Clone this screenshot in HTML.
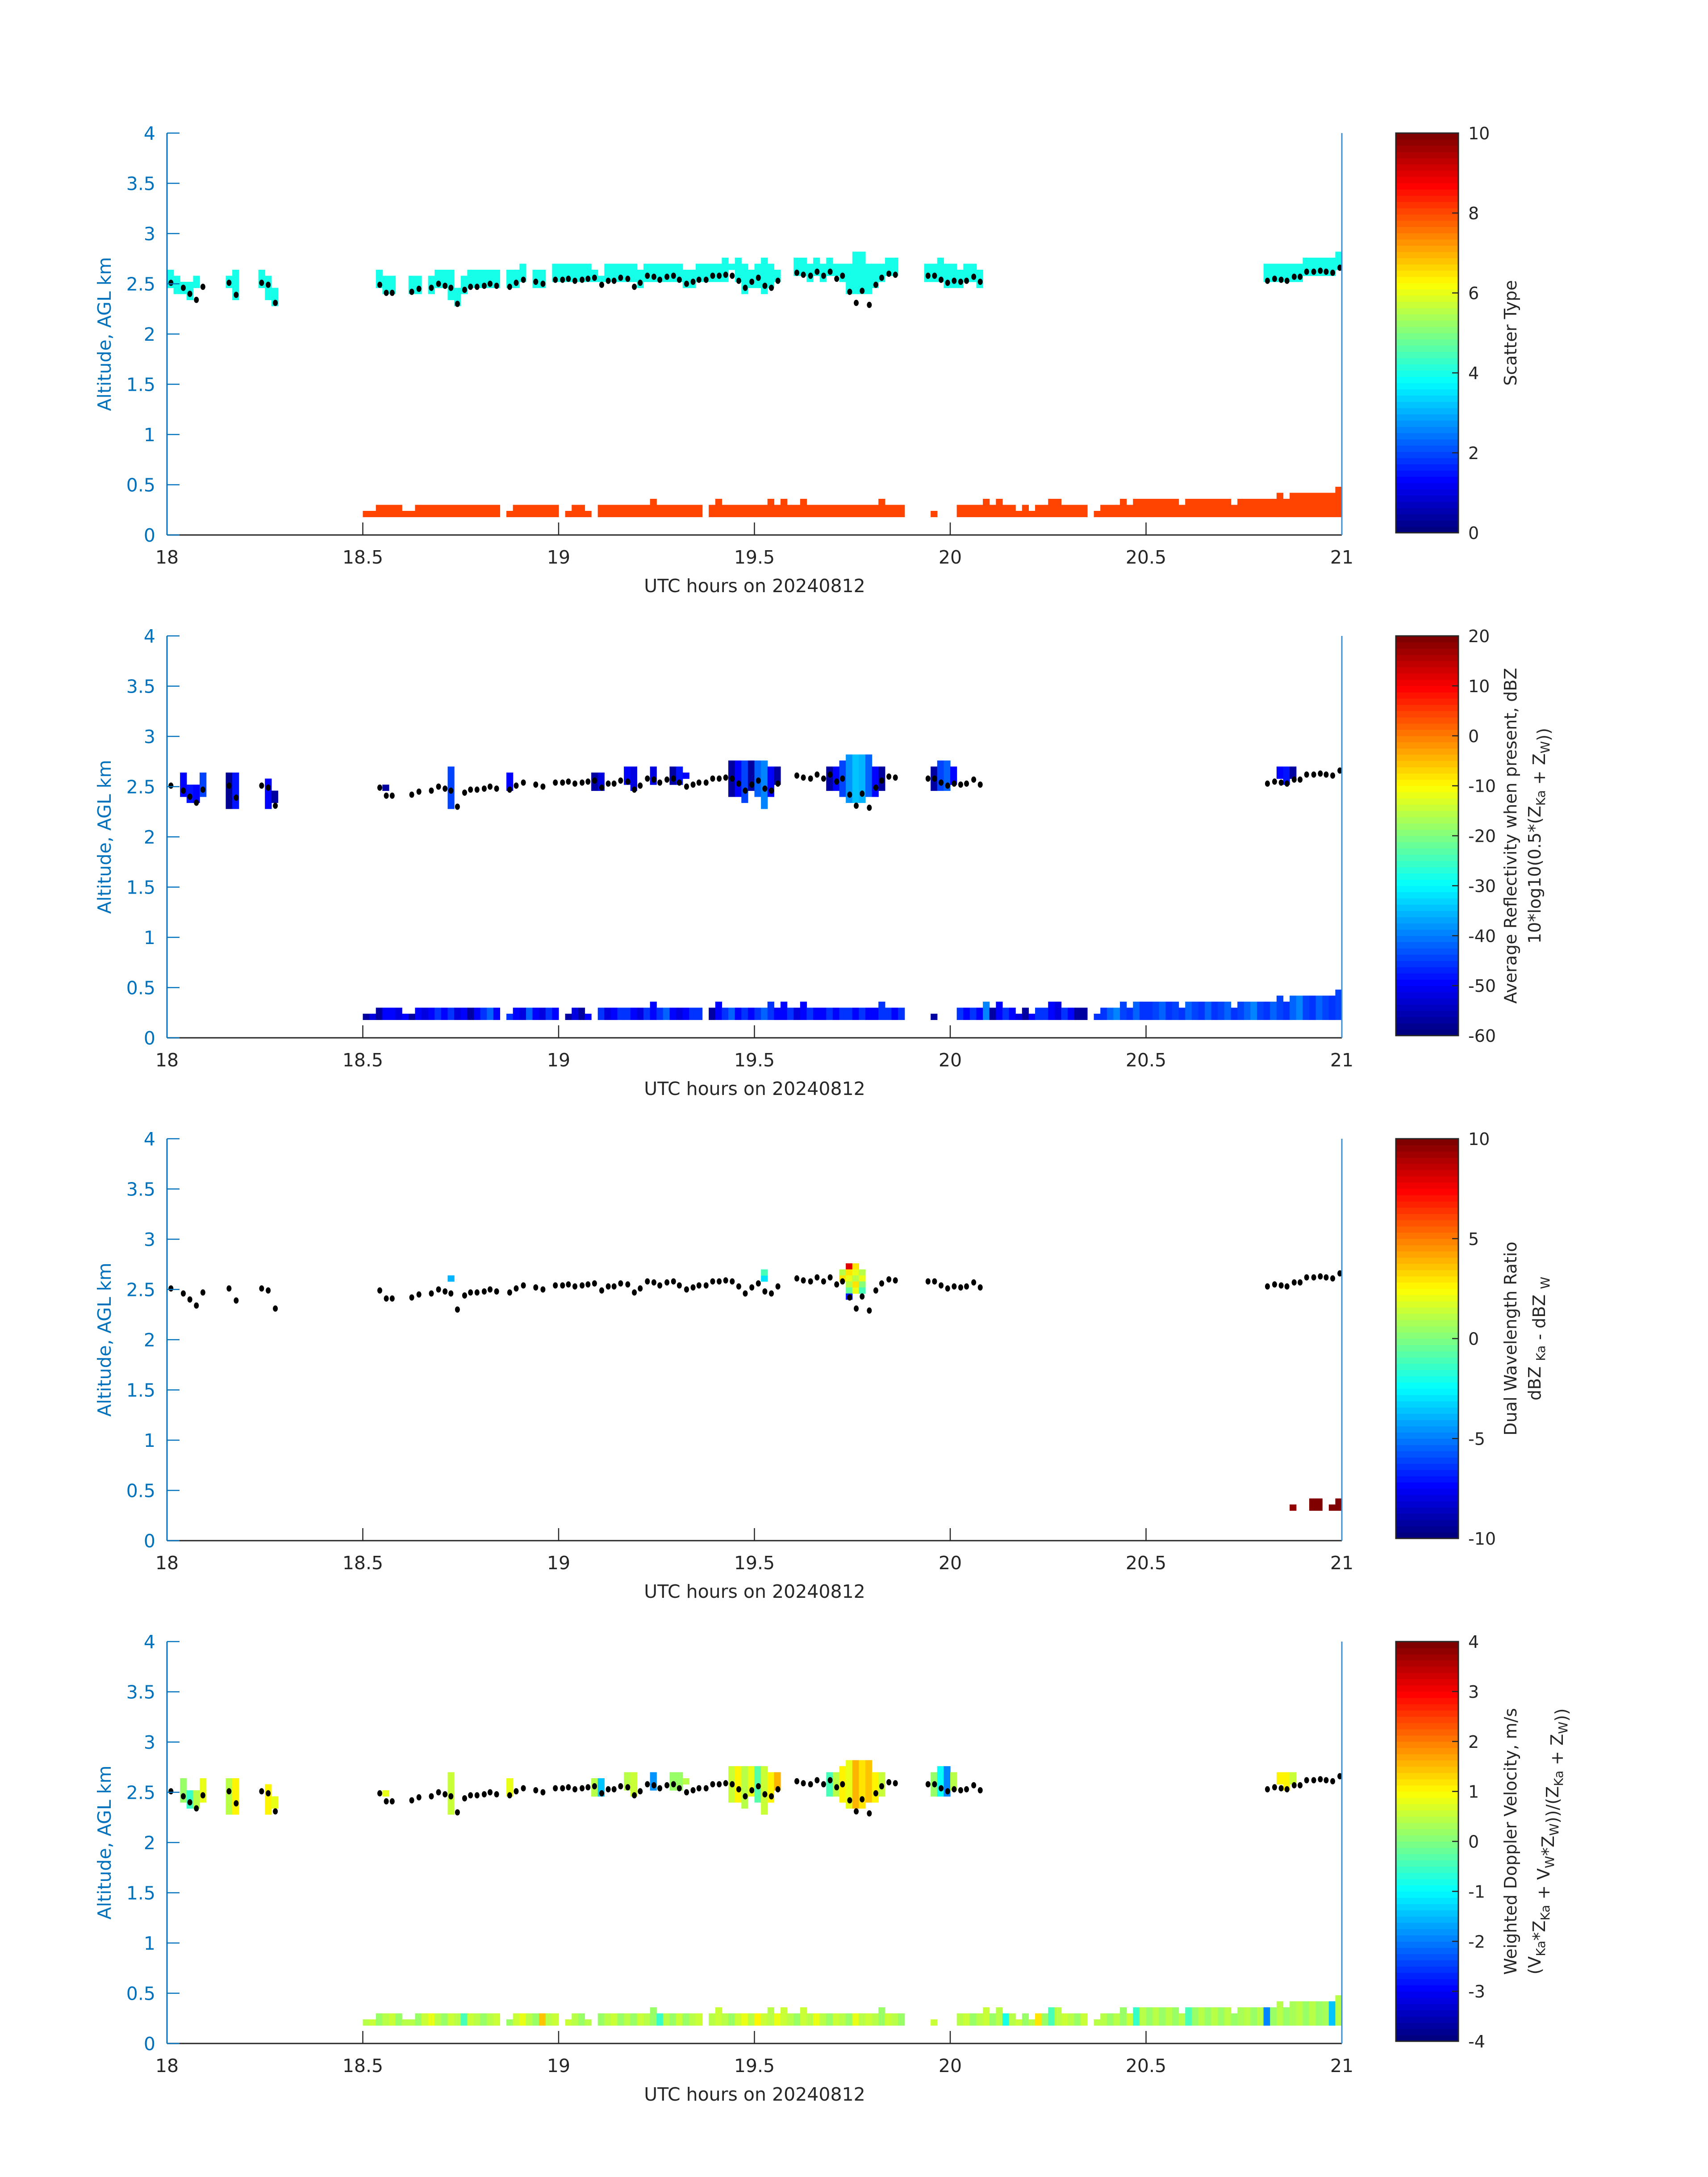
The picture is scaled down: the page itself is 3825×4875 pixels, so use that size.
<!DOCTYPE html>
<html><head><meta charset="utf-8"><style>
body{margin:0;background:#fff}
svg{display:block;font-family:"DejaVu Sans","Liberation Sans",sans-serif}
</style></head><body>
<svg id="fig" width="3825" height="4875" viewBox="0 0 3825 4875" xmlns="http://www.w3.org/2000/svg"></svg>
<script>
// ---------- shared data ----------
const xTicks = [18, 18.5, 19, 19.5, 20, 20.5, 21];
const xTickLabels = ["18", "18.5", "19", "19.5", "20", "20.5", "21"];
const yTicks = [0, 0.5, 1, 1.5, 2, 2.5, 3, 3.5, 4];
const yTickLabels = ["0", "0.5", "1", "1.5", "2", "2.5", "3", "3.5", "4"];
// lower-layer bin count per minute (m0..m179), bins start at 0.18 km, 0.06 km each
const lowerBins = [0,0,0,0,0,0,0,0,0,0,0,0,0,0,0,0,0,0,0,0,0,0,0,0,0,0,0,0,0,0,
1,1,2,2,2,2,1,1,2,2,2,2,2,2,2,2,2,2,2,2,2,0,1,2,2,2,2,2,2,2,
0,1,2,2,1,0,2,2,2,2,2,2,2,2,3,2,2,2,2,2,2,2,0,2,3,2,2,2,2,2,
2,2,3,2,3,2,2,3,2,2,2,2,2,2,2,2,2,2,2,3,2,2,2,0,0,0,0,1,0,0,
0,2,2,2,2,3,2,3,2,2,1,2,1,2,2,3,3,2,2,2,2,0,1,2,2,2,3,2,3,3,
3,3,3,3,3,2,3,3,3,3,3,3,3,2,3,3,3,3,3,3,4,3,4,4,4,4,4,4,4,5];
// cloud-base dots (minute, altitude km)
const dotMin = [0.6,2.5,3.5,4.5,5.5,9.5,10.6,14.5,15.5,16.6,32.6,33.6,34.5,37.5,38.6,40.5,41.6,42.6,43.5,44.5,45.6,46.5,47.5,48.6,49.5,50.5,52.5,53.5,54.6,56.5,57.6,59.5,60.6,61.5,62.5,63.6,64.5,65.5,66.6,67.6,68.5,69.5,70.6,71.6,72.5,73.6,74.6,75.5,76.6,77.6,78.5,79.6,80.6,81.5,82.6,83.6,84.6,85.6,86.6,87.6,88.6,89.6,90.6,91.6,92.6,93.6,96.5,97.5,98.6,99.6,100.6,101.6,102.6,103.5,104.6,105.6,106.5,107.6,108.6,109.5,110.6,111.6,116.6,117.6,118.6,119.6,120.6,121.6,122.5,123.6,124.6,168.6,169.7,170.7,171.6,172.7,173.6,174.6,175.7,176.7,177.6,178.6,179.7];
const dotAlt = [2.51,2.46,2.40,2.34,2.47,2.51,2.39,2.51,2.49,2.31,2.49,2.41,2.41,2.42,2.45,2.46,2.50,2.48,2.46,2.30,2.44,2.47,2.47,2.48,2.50,2.48,2.47,2.51,2.54,2.52,2.50,2.54,2.54,2.55,2.53,2.54,2.55,2.56,2.49,2.53,2.53,2.56,2.55,2.47,2.51,2.58,2.57,2.54,2.57,2.58,2.54,2.50,2.52,2.54,2.54,2.58,2.58,2.59,2.58,2.53,2.46,2.52,2.56,2.48,2.46,2.53,2.61,2.59,2.58,2.62,2.58,2.62,2.55,2.58,2.42,2.31,2.43,2.29,2.49,2.56,2.60,2.59,2.58,2.58,2.54,2.51,2.53,2.52,2.53,2.57,2.52,2.53,2.55,2.54,2.53,2.57,2.57,2.62,2.62,2.63,2.62,2.61,2.66];

// ---------- panel 1: scatter type ----------
const p1UpMin = [0,1,2,3,4,9,10,14,15,16,32,33,34,37,38,40,41,42,43,44,45,46,47,48,49,50,52,53,54,56,57,59,60,61,62,63,64,65,66,67,68,69,70,71,72,73,74,75,76,77,78,79,80,81,82,83,84,85,86,87,88,89,90,91,92,93,96,97,98,99,100,101,102,103,104,105,106,107,108,109,110,111,116,117,118,119,120,121,122,123,124,168,169,170,171,172,173,174,175,176,177,178,179];
const p1UpLo  = [38,37,37,36,38,38,36,38,36,35,38,37,37,37,37,37,38,38,36,35,37,38,38,38,38,38,38,38,39,38,38,39,39,39,39,39,39,39,39,39,39,39,39,39,38,39,39,39,39,39,39,38,38,39,39,39,39,39,41,39,37,38,38,37,38,39,40,40,39,40,39,40,40,39,37,37,37,37,38,39,40,40,39,39,39,38,38,38,39,39,38,39,39,39,39,39,39,40,40,40,40,40,41];
const p1UpHi  = [41,40,39,39,40,40,41,41,40,38,41,40,40,40,40,40,41,41,41,38,40,41,41,41,41,41,41,41,42,41,41,42,42,42,42,42,42,41,40,42,42,42,42,42,41,42,42,42,42,42,42,41,41,42,42,42,42,43,42,43,42,41,42,43,42,41,43,43,42,43,42,43,42,42,42,44,44,42,42,42,43,43,42,42,43,42,42,41,42,42,41,42,42,42,42,42,42,43,43,43,43,43,44];
const p1UpVal = 4;
const p1LowVal = 8;

// ---------- panels 2 & 4 shared upper geometry ----------
const p24UpMin = [2,3,4,5,9,10,15,16,33,43,52,65,66,70,71,74,77,78,79,86,87,88,89,90,91,92,93,101,102,103,104,105,106,107,108,109,117,118,119,120,170,171,172];
const p24UpLo  = [37,36,36,37,35,35,35,36,38,35,38,38,38,39,38,39,39,39,40,37,37,36,38,37,35,37,39,38,38,37,36,36,36,37,37,38,38,38,38,39,40,39,40];
const p24UpHi  = [41,39,39,41,41,41,40,38,39,42,41,41,41,42,42,42,42,42,41,43,43,43,43,43,43,42,42,42,42,43,44,44,44,44,42,42,42,43,43,42,42,42,42];
const p2UpVal  = [-50,-48,-50,-45,-58,-48,-50,-57,-57,-45,-50,-57,-52,-50,-52,-52,-57,-48,-50,-57,-50,-45,-57,-42,-40,-50,-57,-57,-50,-44,-38,-34,-36,-42,-50,-57,-57,-45,-42,-50,-50,-48,-57];
const p4UpVal  = [0.2,-0.6,0.4,0.8,0.4,1.0,1.0,0.8,0.8,0.6,0.8,0.4,-1.5,0.4,0.6,-1.8,0.2,0.2,0.4,0.6,1.0,0.4,0.8,-0.3,0.6,1.0,1.6,-0.4,0.4,1.0,0.8,1.6,1.2,1.4,1.0,0.6,0.2,-1.0,-2.0,0.4,1.0,1.0,0.6];
const p2LowVal = [0,0,0,0,0,0,0,0,0,0,0,0,0,0,0,0,0,0,0,0,0,0,0,0,0,0,0,0,0,0,
-57,-52,-57,-50,-50,-52,-50,-57,-50,-52,-50,-46,-50,-46,-52,-50,-57,-50,-46,-42,-50,-57,-46,-50,-52,-42,-50,-52,-46,-50,
-57,-57,-52,-57,-50,-50,-46,-52,-50,-46,-46,-50,-52,-46,-50,-46,-42,-50,-52,-50,-46,-46,-52,-57,-50,-46,-42,-50,-46,-50,
-46,-42,-46,-50,-50,-46,-52,-50,-46,-50,-50,-46,-50,-46,-46,-50,-46,-50,-50,-46,-46,-50,-46,0,-57,0,0,-57,0,0,
0,-46,-50,-46,-50,-40,-57,-50,-46,-50,-52,-57,-50,-46,-46,-50,-52,-46,-50,-57,-57,0,-46,-46,-42,-40,-44,-46,-42,-46,
-46,-44,-42,-46,-44,-46,-42,-44,-46,-42,-46,-44,-42,-46,-44,-42,-40,-44,-46,-42,-44,-46,-42,-40,-44,-46,-42,-44,-46,-44];
const p4LowVal = [0,0,0,0,0,0,0,0,0,0,0,0,0,0,0,0,0,0,0,0,0,0,0,0,0,0,0,0,0,0,
0.4,0.6,0.2,0.4,0.6,0.2,0.4,0.4,0.2,0.6,0.8,0.4,0.2,0.6,0.4,-0.4,0.6,0.4,0.2,0.4,0.6,0.4,0.2,0.6,0.8,0.4,0.2,1.4,0.4,0.6,
0,0.6,0.4,0.2,0.4,0.6,0.2,0.4,0.6,0.2,0.4,0.2,0.6,0.4,0.2,-0.6,0.4,0.2,0.6,0.2,0.4,0.6,-0.3,0.4,0.6,0.4,0.2,0.6,0.8,0.4,
1.0,0.6,0.4,0.8,0.6,0.4,0.2,0.6,0.4,0.8,0.4,0.2,0.6,0.4,0.2,0.8,0.4,0.6,0.4,0.2,0.6,0.4,0.2,0,0.4,0,0,0.6,0,0,
0,0.4,0.6,0.2,0.4,0.6,0.2,0.4,-0.8,0.4,0.6,0.2,0.4,1.2,0.2,-0.4,0.4,0.6,0.4,0.2,0.6,0,0.4,0.4,0.2,0.4,0.2,0.6,-0.6,0.4,
0.2,0.4,0.2,0.4,0.2,0.4,-0.4,0.2,0.4,0.2,0.4,0.2,0.4,0.2,0.3,0.4,0.2,0.4,-2.0,0.2,0.4,0.2,0.3,0.4,0.2,0.4,0.2,0.3,-1.5,0.4];

// ---------- panel 3: dual wavelength ratio (sparse cells) ----------
const p3Min = [43,91,91,103,103,104,104,104,104,104,104,105,105,105,105,105,106,106,106,106,172,175,175,176,176,178,179,179];
const p3Bin = [40,40,41,41,40,42,41,40,39,38,37,42,41,40,39,38,41,40,39,38,2,2,3,2,3,2,2,3];
const p3Val = [-4,-3,-1,1,3,8,3,2,1,-0.5,-7,3,2,1,3,2,1,2,0,-1,9.5,10,10,10,10,10,10,10];

// ---------- layout ----------
const X0 = 374, X1 = 3005, PH = 900, TOP0 = 298, DY = 1126;
const CB0 = 3126, CB1 = 3266;
const BLUE = "#0072BD", GRAY = "#262626";
const NS = "http://www.w3.org/2000/svg";
const svg = document.getElementById("fig");
function xs(h){ return X0 + (h - 18) * (X1 - X0) / 3; }
function ys(top, a){ return top + PH - a * PH / 4; }
function jet(t){
  t = Math.max(0, Math.min(1, t));
  t = Math.min(63, Math.floor(t * 64)) / 63;
  const c = v => Math.round(255 * Math.max(0, Math.min(1, v)));
  return `rgb(${c(1.5-Math.abs(4*t-3))},${c(1.5-Math.abs(4*t-2))},${c(1.5-Math.abs(4*t-1))})`;
}
function mk(tag, attrs, parent){
  const e = document.createElementNS(NS, tag);
  for (const k in attrs) e.setAttribute(k, attrs[k]);
  (parent || svg).appendChild(e);
  return e;
}
const binEdge = k => 0.18 + 0.06 * k;
function cell(g, top, m, k, val, lo, hi){
  const xa = xs(18 + m/60), xb = xs(18 + (m+1)/60);
  const ya = ys(top, binEdge(k+1)), yb = ys(top, binEdge(k));
  const r = mk("rect", {x: xa.toFixed(2), y: ya.toFixed(2), width: (xb-xa+0.6).toFixed(2), height: (yb-ya+0.6).toFixed(2), fill: jet((val-lo)/(hi-lo))}, g);
  
  
}
function txt(parent, x, y, s, attrs){
  const t = mk("text", Object.assign({x: x, y: y}, attrs || {}), parent);
  t.textContent = s;
  return t;
}

const panels = [
  {cbTicks:[0,2,4,6,8,10], lo:0, hi:10, title:["Scatter Type"], name:"scatter-type"},
  {cbTicks:[-60,-50,-40,-30,-20,-10,0,10,20], lo:-60, hi:20, title:["Average Reflectivity when present, dBZ","REFL2"], name:"reflectivity"},
  {cbTicks:[-10,-5,0,5,10], lo:-10, hi:10, title:["Dual Wavelength Ratio","DWR2"], name:"dual-wavelength-ratio"},
  {cbTicks:[-4,-3,-2,-1,0,1,2,3,4], lo:-4, hi:4, title:["Weighted Doppler Velocity, m/s","VEL2"], name:"doppler-velocity"}
];

panels.forEach((p, i) => {
  const top = TOP0 + i*DY, bot = top + PH;
  const g = mk("g", {});
  
  
  const data = mk("g", {}, g);
  
  
  for (let m = 0; m < 180; m++){
    for (let k = 0; k < lowerBins[m]; k++){
      if (i === 0) cell(data, top, m, k, p1LowVal, p.lo, p.hi);
      else if (i === 1) cell(data, top, m, k, p2LowVal[m], p.lo, p.hi);
      else if (i === 3) cell(data, top, m, k, p4LowVal[m], p.lo, p.hi);
    }
  }
  if (i === 0){
    p1UpMin.forEach((m, j) => { for (let k = p1UpLo[j]; k < p1UpHi[j]; k++) cell(data, top, m, k, p1UpVal, p.lo, p.hi); });
  } else if (i === 1 || i === 3){
    const vals = i === 1 ? p2UpVal : p4UpVal;
    p24UpMin.forEach((m, j) => { for (let k = p24UpLo[j]; k < p24UpHi[j]; k++) cell(data, top, m, k, vals[j], p.lo, p.hi); });
  } else {
    p3Min.forEach((m, j) => cell(data, top, m, p3Bin[j], p3Val[j], p.lo, p.hi));
  }
  const dg = mk("g", {}, g);
  
  
  dotMin.forEach((m, j) => {
    const c = mk("ellipse", {cx: xs(18 + m/60).toFixed(1), cy: ys(top, dotAlt[j]).toFixed(1), rx: 5.5, ry: 7, fill: "#000"}, dg);
    
    
  });
  const ax = mk("g", {}, g);
  
  
  mk("line", {x1: X0, y1: bot, x2: X1, y2: bot, stroke: GRAY, "stroke-width": 3}, ax);
  xTicks.forEach((t, j) => {
    mk("line", {x1: xs(t), y1: bot, x2: xs(t), y2: bot - 28, stroke: GRAY, "stroke-width": 2.5}, ax);
    const tl = txt(ax, xs(t), bot + 64, xTickLabels[j], {"font-size": 41, fill: GRAY, "text-anchor": "middle"});
    
    
  });
  const xt = txt(ax, 1690, bot + 128, "UTC hours on 20240812", {"font-size": 41, fill: GRAY, "text-anchor": "middle"});
  
  
  const ay = mk("g", {}, g);
  
  
  mk("line", {x1: X0, y1: top, x2: X0, y2: bot, stroke: BLUE, "stroke-width": 3}, ay);
  mk("line", {x1: X1, y1: top, x2: X1, y2: bot, stroke: "#3d8fd1", "stroke-width": 3}, ay);
  yTicks.forEach((t, j) => {
    mk("line", {x1: X0, y1: ys(top, t), x2: X0 + 28, y2: ys(top, t), stroke: BLUE, "stroke-width": 2.5}, ay);
    const tl = txt(ay, 348, ys(top, t) + 15, yTickLabels[j], {"font-size": 41, fill: BLUE, "text-anchor": "end"});
    
    
  });
  const yt = txt(ay, 0, 0, "Altitude, AGL km", {"font-size": 41, fill: BLUE, "text-anchor": "middle", transform: `translate(248 ${top + PH/2}) rotate(-90)`});
  
  
  const cb = mk("g", {}, g);
  
  
  const ct = top, cbt = bot - 5, ch = (cbt - ct) / 64;
  for (let j = 0; j < 64; j++){
    mk("rect", {x: CB0, y: (cbt - (j+1)*ch).toFixed(2), width: CB1 - CB0, height: (ch + 0.6).toFixed(2), fill: jet((j + 0.5)/64)}, cb);
  }
  mk("rect", {x: CB0, y: ct, width: CB1 - CB0, height: cbt - ct, fill: "none", stroke: GRAY, "stroke-width": 3}, cb);
  p.cbTicks.forEach(t => {
    const y = cbt - (t - p.lo) / (p.hi - p.lo) * (cbt - ct);
    mk("line", {x1: CB1 - 14, y1: y, x2: CB1, y2: y, stroke: GRAY, "stroke-width": 2.5}, cb);
    const tl = txt(cb, 3288, y + 14, String(t), {"font-size": 38, fill: GRAY});
    
    
  });
  const cy = (ct + cbt) / 2;
  if (p.title.length === 1){
    const t = txt(cb, 0, 0, p.title[0], {"font-size": 38, fill: GRAY, "text-anchor": "middle", transform: `translate(3396 ${cy}) rotate(-90)`});
    
    
  } else {
    const t = txt(cb, 0, 0, p.title[0], {"font-size": 38, fill: GRAY, "text-anchor": "middle", transform: `translate(3396 ${cy}) rotate(-90)`});
    
    
    const t2 = mk("text", {x: 0, y: 0, "font-size": 38, fill: GRAY, "text-anchor": "middle", transform: `translate(3450 ${cy}) rotate(-90)`}, cb);
    
    
    const parts = {
      REFL2: [["10*log10(0.5*(Z",0],["Ka",1],[" + Z",0],["W",1],["))",0]],
      DWR2: [["dBZ ",0],["Ka",1],[" - dBZ ",0],["W",1]],
      VEL2: [["(V",0],["Ka",1],["*Z",0],["Ka",1],[" + V",0],["W",1],["*Z",0],["W",1],["))/(Z",0],["Ka",1],[" + Z",0],["W",1],["))",0]]
    }[p.title[1]];
    parts.forEach(([s, sub]) => {
      const ts = mk("tspan", sub ? {"font-size": 28, dy: 10} : {dy: 0}, t2);
      ts.textContent = s;
      if (sub) { const back = mk("tspan", {dy: -10, "font-size": 38}, t2); back.textContent = ""; }
    });
  }
});
</script>
</body></html>
